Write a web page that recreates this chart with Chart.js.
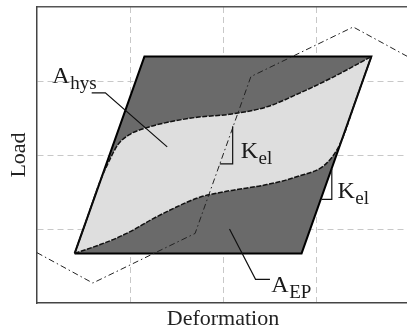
<!DOCTYPE html>
<html>
<head>
<meta charset="utf-8">
<script src="https://cdn.jsdelivr.net/npm/chart.js@4/dist/chart.umd.min.js"></script>
<style>
  html, body { margin: 0; padding: 0; overflow: hidden; background: #ffffff; }
  canvas { display: block; }
</style>
</head>
<body>
<canvas id="c" width="409" height="331"></canvas>
<script>
// Elastic-perfectly-plastic envelope (closed parallelogram), in normalised units
const epEnvelope = [[0.405, 0.67], [1.155, 3.33], [3.595, 3.33], [2.845, 0.67], [0.405, 0.67]];

// Hysteresis loop: loading branch (upper) and unloading branch (lower)
const loopUpper = [[0.405, 0.67], [0.54, 1.15], [0.68, 1.65], [0.78, 1.93], [0.87, 2.14], [1.0, 2.28],
  [1.18, 2.37], [1.36, 2.43], [1.72, 2.51], [2.07, 2.55], [2.47, 2.65], [2.83, 2.84], [3.18, 3.05], [3.595, 3.33]];
const loopLower = [[0.405, 0.67], [0.68, 0.79], [0.86, 0.88], [1.04, 0.99], [1.22, 1.12], [1.47, 1.28],
  [1.75, 1.43], [2.0, 1.50], [2.11, 1.525], [2.47, 1.60], [2.80, 1.71], [3.115, 1.89], [3.27, 2.18], [3.43, 2.75], [3.595, 3.33]];

// Backbone trace (dash-dot)
const backbone = [[0, 0.68], [0.60, 0.27], [1.70, 0.94], [2.30, 3.06], [3.40, 3.73], [4, 3.32]];

// Elastic stiffness markers and leader lines
const kelMid = [[1.966, 1.88], [2.104, 1.88], [2.104, 2.39]];
const kelEdge = [[3.06, 1.40], [3.17, 1.40], [3.17, 1.81]];
const hysLeader = [[0.588, 2.84], [0.735, 2.84], [1.40, 2.11]];
const epLeader = [[2.07, 1.0], [2.35, 0.32], [2.505, 0.32]];

// Text annotations: main symbol, subscript, anchor (baseline-left)
const labelMain = ['A', 'K', 'K', 'A'];
const labelSub = ['hys', 'el', 'el', 'EP'];
const labelX = [0.165, 2.19, 3.23, 2.52];
const labelY = [2.975, 1.96, 1.42, 0.155];

const axisRange = [0, 4];

const pts = arr => arr.map(([x, y]) => ({ x, y }));

const lineBase = { showLine: true, pointRadius: 0, pointHoverRadius: 0, fill: false, tension: 0 };

const annotationPlugin = {
  id: 'symbolLabels',
  afterDatasetsDraw(chart) {
    const { ctx, scales } = chart;
    ctx.save();
    ctx.fillStyle = '#1a1a1a';
    ctx.textBaseline = 'alphabetic';
    ctx.textAlign = 'left';
    labelMain.forEach((m, i) => {
      const px = scales.x.getPixelForValue(labelX[i]);
      const py = scales.y.getPixelForValue(labelY[i]);
      ctx.font = '24px "Liberation Serif"';
      ctx.fillText(m, px, py);
      const w = ctx.measureText(m).width;
      ctx.font = '19px "Liberation Serif"';
      ctx.fillText(labelSub[i], px + w + 0.5, py + 6);
    });
    ctx.restore();
  }
};

const gridColor = c => (c.tick && (c.tick.value === axisRange[0] || c.tick.value === axisRange[1])) ? 'rgba(0,0,0,0)' : '#c8c8c8';
const titleFont = { family: 'Liberation Serif', size: 22, lineHeight: 1 };

new Chart(document.getElementById('c'), {
  type: 'scatter',
  data: {
    datasets: [
      { ...lineBase, data: pts(epLeader), borderColor: '#111', borderWidth: 1.2 },
      { ...lineBase, data: pts(hysLeader), borderColor: '#111', borderWidth: 1.2 },
      { ...lineBase, data: pts(kelEdge), borderColor: '#111', borderWidth: 1.2 },
      { ...lineBase, data: pts(kelMid), borderColor: '#111', borderWidth: 1.2 },
      { ...lineBase, data: pts(backbone), borderColor: '#222', borderWidth: 1, borderDash: [6, 3, 1.5, 3] },
      { ...lineBase, data: pts(loopUpper), cubicInterpolationMode: 'monotone', fill: '+1',
        backgroundColor: '#dedede', borderColor: '#111', borderWidth: 1.5, borderDash: [5, 1.5] },
      { ...lineBase, data: pts(loopLower), cubicInterpolationMode: 'monotone',
        borderColor: '#111', borderWidth: 1.5, borderDash: [5, 1.5] },
      { ...lineBase, data: pts(epEnvelope), fill: 'shape', backgroundColor: '#6a6a6a',
        borderColor: '#000', borderWidth: 2, borderJoinStyle: 'miter' }
    ]
  },
  options: {
    responsive: false,
    animation: false,
    devicePixelRatio: 1,
    layout: { padding: 0 },
    plugins: {
      legend: { display: false },
      tooltip: { enabled: false },
      filler: { drawTime: 'beforeDatasetsDraw' }
    },
    scales: {
      x: {
        type: 'linear', position: 'bottom', min: axisRange[0], max: axisRange[1],
        ticks: { display: false, stepSize: 1 },
        grid: { color: gridColor, drawTicks: false, lineWidth: 1 },
        border: { display: true, color: '#444', width: 1.5, dash: [6, 4] },
        title: { display: true, text: 'Deformation', color: '#222', font: titleFont, padding: { top: 0, bottom: 1 } },
        afterFit: s => { s.height = 28; }
      },
      x2: {
        type: 'linear', position: 'top', min: axisRange[0], max: axisRange[1],
        ticks: { display: false },
        grid: { drawOnChartArea: false, drawTicks: false },
        border: { display: true, color: '#555', width: 1.5 },
        afterFit: s => { s.height = 7; }
      },
      y: {
        type: 'linear', position: 'left', min: axisRange[0], max: axisRange[1],
        ticks: { display: false, stepSize: 1 },
        grid: { color: gridColor, drawTicks: false, lineWidth: 1 },
        border: { display: true, color: '#444', width: 1.5, dash: [6, 4] },
        title: { display: true, text: 'Load', color: '#222', font: titleFont, padding: { top: 8, bottom: 0 } },
        afterFit: s => { s.width = 37; }
      }
    }
  },
  plugins: [annotationPlugin]
});
</script>
</body>
</html>
